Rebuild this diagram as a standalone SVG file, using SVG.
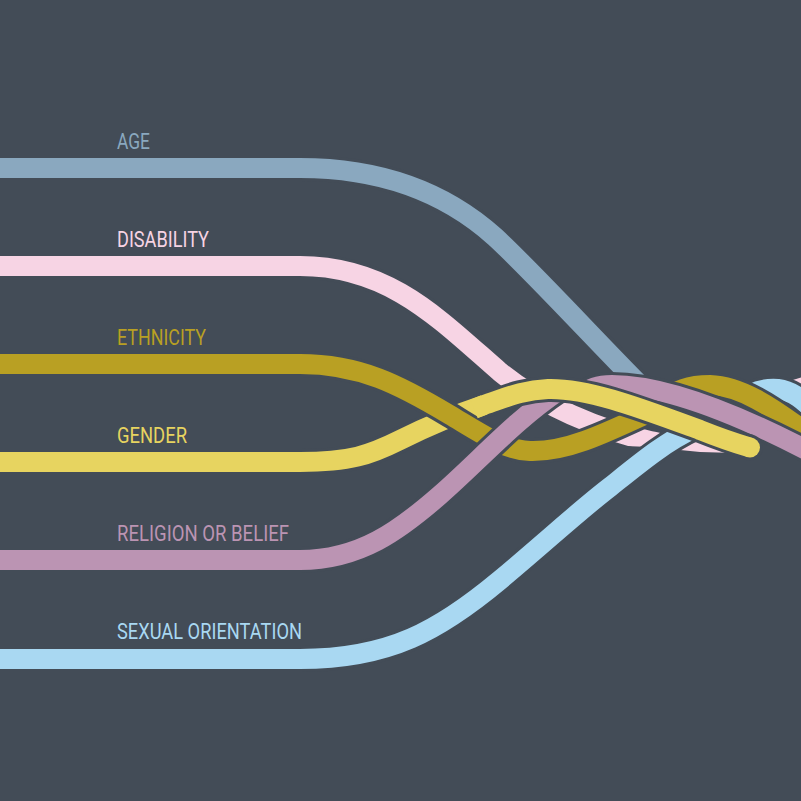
<svg xmlns="http://www.w3.org/2000/svg" width="801" height="801" viewBox="0 0 801 801">
<style>
.gap{fill:none;stroke:#434c57;stroke-width:26;stroke-linecap:butt}
.s{fill:none;stroke-width:20;stroke-linecap:butt}
.age{stroke:#8aa8bf}.dis{stroke:#f7d4e4}.eth{stroke:#b9a023}.gen{stroke:#e7d460}.rel{stroke:#bb94b3}.sex{stroke:#a9d8f2}
text{font-family:Roboto,"Liberation Sans",sans-serif;font-size:22px}
</style>
<defs>
<path id="p-age" d="M-10,168 H300 C380,168 445,192 495,237 C530,269 600,345 640,385"/>
<path id="p-dis" d="M-10,266 H300 C390,266 440,320 500,372 C540,405 600,430 650,441 C680,447 700,452 730,456"/>
<path id="p-sex-back" d="M-10,659 H300 C390,659 440,630 500,580 C550,538 580,510 610,487 C640,463 665,442 695,428"/>
<path id="p-gen-left" d="M-10,462 H300 C350,462 370,455 400,440 C430,425 460,413 484,405 L492,402.3"/>
<path id="p-eth" d="M-10,364 H300 C360,364 400,385 450,415 C485,436 505,450 530,451 C565,452 600,436 655,410"/>
<path id="p-rel-back" d="M-10,560 H300 C360,560 400,530 440,495 C480,460 515,420 560,390"/>
<path id="p-dis-front" d="M786,400 C792,390 800,386 812,387 L830,395"/>
<path id="p-sex-front" d="M742,402 C750,392 762,388 778,389 C794,391 805,402 820,416"/>
<path id="p-eth-front" d="M665,400 C675,390 690,385 710,385 C740,386 770,405 812,437"/>
<path id="p-rel-front" d="M580,396 C590,388 598,385 612,385 C655,385 720,405 810,452"/>
<path id="p-gen-right" d="M484,405 C505,398 522,390 548,389 C588,388 640,408 700,430 C720,438 738,444 750,447.5"/>
<path id="p-gen-right-fill" d="M474,409 L484,405 C505,398 522,390 548,389 C588,388 640,408 700,430 C720,438 738,444 750,447.5"/>
<clipPath id="pinkclip"><polygon points="-20,0 735,0 735,453 700,452 650,447 600,445 -20,445"/></clipPath>
</defs>
<rect width="801" height="801" fill="#434c57"/>
<g id="connectors">
  <g id="strand-age"><use href="#p-age" class="gap"/><use href="#p-age" class="s age"/></g>
  <g id="strand-disability" clip-path="url(#pinkclip)"><use href="#p-dis" class="gap"/><use href="#p-dis" class="s dis"/></g>
  <g id="strand-sexual-back"><use href="#p-sex-back" class="gap"/><use href="#p-sex-back" class="s sex"/></g>
  <g id="strand-gender-left"><use href="#p-gen-left" class="gap"/><use href="#p-gen-left" class="s gen"/></g>
  <g id="strand-ethnicity"><use href="#p-eth" class="gap"/><use href="#p-eth" class="s eth"/></g>
  <g id="strand-religion-back"><use href="#p-rel-back" class="gap"/><use href="#p-rel-back" class="s rel"/></g>
  <g id="strand-disability-front"><use href="#p-dis-front" class="gap"/><use href="#p-dis-front" class="s dis"/></g>
  <g id="strand-sexual-front"><use href="#p-sex-front" class="gap"/><use href="#p-sex-front" class="s sex"/></g>
  <g id="strand-ethnicity-front"><use href="#p-eth-front" class="gap"/><use href="#p-eth-front" class="s eth"/></g>
  <g id="strand-religion-front"><use href="#p-rel-front" class="gap"/><use href="#p-rel-front" class="s rel"/></g>
  <g id="strand-gender-right">
    <use href="#p-gen-right" class="gap"/><circle cx="750" cy="447.5" r="13" fill="#434c57"/>
    <use href="#p-gen-right-fill" class="s gen"/><circle cx="750" cy="447.5" r="10" fill="#e7d460"/>
  </g>
</g>
<g id="label-age"><text x="117" y="149" fill="#8aa8bf" textLength="33" lengthAdjust="spacingAndGlyphs">AGE</text></g>
<g id="label-disability"><text x="117" y="247" fill="#f7d4e4" textLength="92" lengthAdjust="spacingAndGlyphs">DISABILITY</text></g>
<g id="label-ethnicity"><text x="117" y="345" fill="#b9a023" textLength="89" lengthAdjust="spacingAndGlyphs">ETHNICITY</text></g>
<g id="label-gender"><text x="117" y="443" fill="#e7d460" textLength="70" lengthAdjust="spacingAndGlyphs">GENDER</text></g>
<g id="label-religion"><text x="117" y="541" fill="#bb94b3" textLength="172" lengthAdjust="spacingAndGlyphs">RELIGION OR BELIEF</text></g>
<g id="label-sexual"><text x="117" y="639" fill="#a9d8f2" textLength="185" lengthAdjust="spacingAndGlyphs">SEXUAL ORIENTATION</text></g>
</svg>
